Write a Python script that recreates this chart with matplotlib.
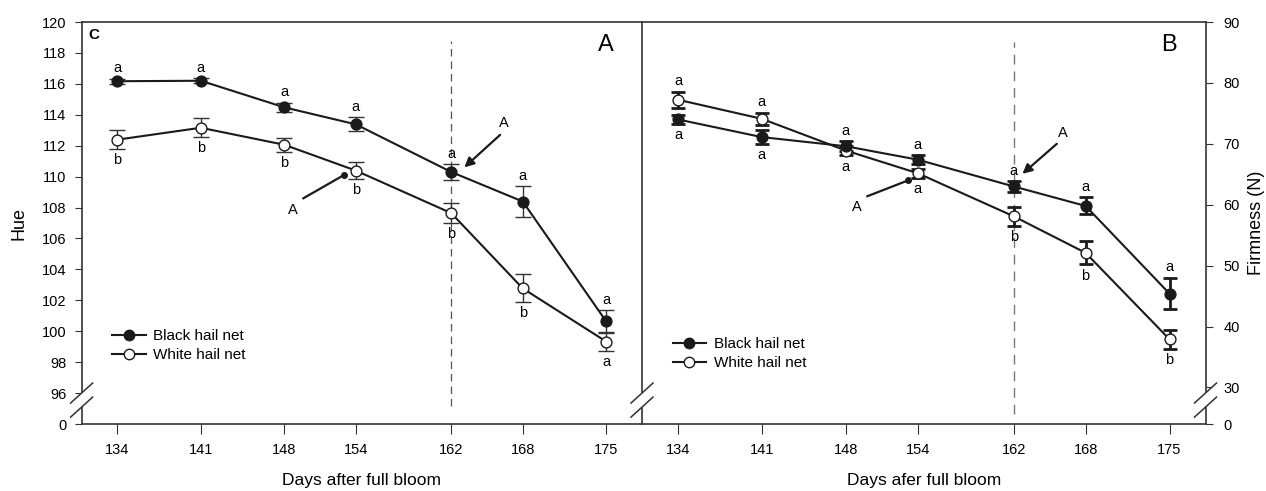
import numpy as np
import matplotlib
matplotlib.use("Agg")
import matplotlib.pyplot as plt

plt.rcParams['font.family'] = ['Liberation Sans', 'DejaVu Sans']

days = [134, 141, 148, 154, 162, 168, 175]
day_labels = ["134", "141", "148", "154", "162", "168", "175"]

# panel A: hue
hue_black = [116.17, 116.2, 114.48, 113.38, 110.3, 108.39, 100.63]
hue_black_err = [0.15, 0.15, 0.3, 0.46, 0.5, 1.0, 0.72]
hue_white = [112.39, 113.16, 112.06, 110.39, 107.64, 102.77, 99.33]
hue_white_err = [0.6, 0.6, 0.45, 0.55, 0.65, 0.9, 0.6]
hue_black_letters = ["a", "a", "a", "a", "a", "a", "a"]
hue_white_letters = ["b", "b", "b", "b", "b", "b", "a"]

# panel B: firmness
firm_black = [74.0, 71.1, 69.6, 67.4, 63.0, 59.8, 45.4]
firm_black_err = [0.8, 1.1, 0.8, 0.7, 0.9, 1.4, 2.6]
firm_white = [77.24, 74.1, 68.9, 65.17, 58.1, 52.1, 37.9]
firm_white_err = [1.3, 1.0, 0.8, 0.7, 1.6, 1.9, 1.6]
# (letter, which series it sits next to, above/below)
firm_letters = [
    [("a", "w", 1), ("a", "b", -1)],
    [("a", "w", 1), ("a", "b", -1)],
    [("a", "b", 1), ("a", "w", -1)],
    [("a", "b", 1), ("a", "w", -1)],
    [("a", "b", 1), ("b", "w", -1)],
    [("a", "b", 1), ("b", "w", -1)],
    [("a", "b", 1), ("b", "w", -1)],
]

W, H = 1266, 491
fig = plt.figure(figsize=(W / 100, H / 100), dpi=100)
axL = fig.add_axes([81.6 / W, 67 / H, (642 - 81.6) / W, 402 / H])
axR = fig.add_axes([642 / W, 67 / H, (1205.5 - 642) / W, 402 / H])

spine_col = "#333333"
line_col = "#1a1a1a"


def draw_series(ax, y, e, face, ecol, elw, cap, cthick):
    ax.errorbar(days, y, yerr=e, fmt="none", ecolor=ecol, elinewidth=elw,
                capsize=cap, capthick=cthick, zorder=2)
    ax.plot(days, y, "-", color=line_col, lw=1.5, zorder=3)
    ax.plot(days, y, "o", ms=7.8, mfc=face, mec=line_col, mew=1.0, zorder=4)


def letter(ax, x, y, e, s, side):
    if side > 0:
        ax.annotate(s, (x, y + e), xytext=(0, 2.5), textcoords="offset points",
                    ha="center", va="bottom", fontsize=10.5)
    else:
        ax.annotate(s, (x, y - e), xytext=(0, -3), textcoords="offset points",
                    ha="center", va="top", fontsize=10.5)


def break_mark(ax, xf, yc=(0.077, 0.042)):
    w = ax.get_position().width * W
    h = ax.get_position().height * H
    dx, dy = 11 / w, 10 / h
    ax.fill([xf - dx, xf + dx, xf + dx, xf - dx],
            [yc[1] - dy, yc[1] + dy, yc[0] + dy, yc[0] - dy],
            color="white", transform=ax.transAxes, clip_on=False, zorder=5, lw=0)
    for c in yc:
        ax.plot([xf - dx, xf + dx], [c - dy, c + dy], color=spine_col, lw=1.1,
                transform=ax.transAxes, clip_on=False, zorder=6)


for ax in (axL, axR):
    ax.set_xlim(131, 178)
    ax.set_xticks(days)
    ax.set_xticklabels(day_labels)
    for sp in ax.spines.values():
        sp.set_color(spine_col)
        sp.set_linewidth(1.2)
    ax.tick_params(axis="both", direction="out", labelsize=10.5, color=spine_col)
    ax.tick_params(axis="x", length=7, pad=7)
    ax.tick_params(axis="y", length=5, pad=6)

# ---- panel A
draw_series(axL, hue_white, hue_white_err, "white", "#333333", 1.0, 5.5, 1.0)
draw_series(axL, hue_black, hue_black_err, line_col, "#333333", 1.0, 5.5, 1.0)
for i, d in enumerate(days):
    letter(axL, d, hue_black[i], hue_black_err[i], hue_black_letters[i], 1)
    letter(axL, d, hue_white[i], hue_white_err[i], hue_white_letters[i], -1)
axL.set_ylim(94, 120)
axL.set_yticks([94] + list(range(96, 121, 2)))
axL.set_yticklabels(["0"] + [str(v) for v in range(96, 121, 2)])
axL.spines["right"].set_visible(False)
axL.set_ylabel("Hue", fontsize=13, labelpad=10)
axL.set_xlabel("Days after full bloom", fontsize=12.5, labelpad=11)
axL.vlines(162, 95.14, 118.8, colors="#555555", lw=0.9, linestyles=(0, (6, 4)), zorder=1)
axL.text(0.012, 0.985, "C", transform=axL.transAxes, ha="left", va="top",
         fontsize=11, fontweight="bold")
axL.text(0.935, 0.97, "A", transform=axL.transAxes, ha="center", va="top", fontsize=17)
axL.annotate("", xy=(163.1, 110.6), xytext=(166.1, 112.7),
             arrowprops=dict(arrowstyle="-|>", color=line_col, lw=1.6,
                             mutation_scale=14, shrinkA=0, shrinkB=0))
axL.text(166.4, 113.0, "A", ha="center", va="bottom", fontsize=10.5)
axL.plot([149.6, 153.0], [108.6, 110.1], color=line_col, lw=1.6)
axL.plot([153.0], [110.1], "o", color=line_col, ms=4)
axL.text(149.1, 108.3, "A", ha="right", va="top", fontsize=10.5)
axL.plot([], [], "-o", color=line_col, mfc=line_col, mec=line_col, ms=7.5,
         label="Black hail net")
axL.plot([], [], "-o", color=line_col, mfc="white", mec=line_col, ms=7.5,
         label="White hail net")
axL.legend(loc="lower left", bbox_to_anchor=(0.03, 0.12), frameon=False,
           fontsize=11, handlelength=2.2, handletextpad=0.5, labelspacing=0.3)
break_mark(axL, 0.0)

# ---- panel B
draw_series(axR, firm_white, firm_white_err, "white", line_col, 2.0, 5.0, 2.0)
draw_series(axR, firm_black, firm_black_err, line_col, line_col, 2.0, 5.0, 2.0)
for i, d in enumerate(days):
    for s, which, side in firm_letters[i]:
        if which == "b":
            letter(axR, d, firm_black[i], firm_black_err[i], s, side)
        else:
            letter(axR, d, firm_white[i], firm_white_err[i], s, side)
axR.set_ylim(24, 90)
axR.set_yticks([24] + list(range(30, 91, 10)))
axR.set_yticklabels(["0"] + [str(v) for v in range(30, 91, 10)])
axR.yaxis.tick_right()
axR.yaxis.set_label_position("right")
axR.tick_params(axis="y", pad=8)
axR.set_ylabel("Firmness (N)", fontsize=13, labelpad=6)
axR.set_xlabel("Days afer full bloom", fontsize=12.5, labelpad=11)
axR.vlines(162, 25.6, 86.7, colors="#777777", lw=1.0, linestyles=(0, (7, 5)), zorder=1)
axR.text(0.935, 0.97, "B", transform=axR.transAxes, ha="center", va="top", fontsize=17)
axR.annotate("", xy=(162.73, 65.07), xytext=(165.6, 70.0),
             arrowprops=dict(arrowstyle="-|>", color=line_col, lw=1.6,
                             mutation_scale=14, shrinkA=0, shrinkB=0))
axR.text(166.07, 70.6, "A", ha="center", va="bottom", fontsize=10.5)
axR.plot([149.8, 153.2], [61.4, 64.0], color=line_col, lw=1.6)
axR.plot([153.2], [64.0], "o", color=line_col, ms=4)
axR.text(149.3, 60.7, "A", ha="right", va="top", fontsize=10.5)
axR.plot([], [], "-o", color=line_col, mfc=line_col, mec=line_col, ms=7.5,
         label="Black hail net")
axR.plot([], [], "-o", color=line_col, mfc="white", mec=line_col, ms=7.5,
         label="White hail net")
axR.legend(loc="lower left", bbox_to_anchor=(0.03, 0.10), frameon=False,
           fontsize=11, handlelength=2.2, handletextpad=0.5, labelspacing=0.3)
break_mark(axR, 0.0)
break_mark(axR, 1.0)

fig.savefig("out.png", dpi=100)
